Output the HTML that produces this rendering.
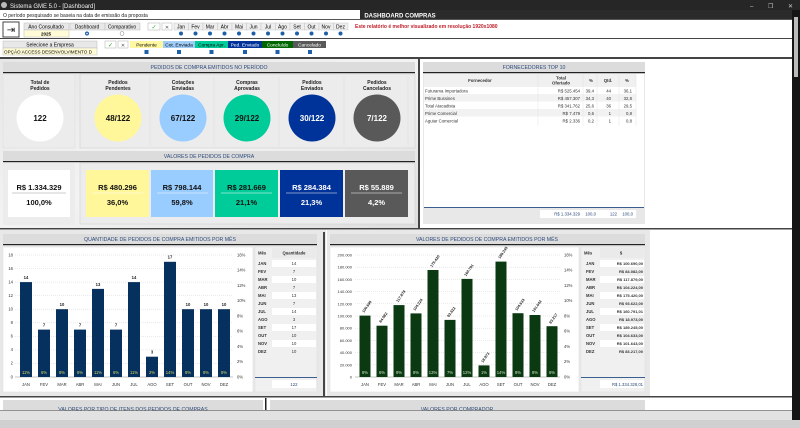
<!DOCTYPE html>
<html><head><meta charset="utf-8"><style>
html,body{margin:0;padding:0;width:800px;height:428px;overflow:hidden;background:#fff}
svg{display:block;font-family:"Liberation Sans",sans-serif}
</style></head><body>
<svg width="800" height="428" viewBox="0 0 800 428" xmlns="http://www.w3.org/2000/svg">
<defs>
<linearGradient id="pg" x1="0" y1="0" x2="1" y2="1"><stop offset="0" stop-color="#e6e6e6"/><stop offset="0.5" stop-color="#f3f3f3"/><stop offset="1" stop-color="#dedede"/></linearGradient>
</defs>
<!-- title bar -->
<rect x="0" y="0" width="800" height="10" fill="#262626"/>
<circle cx="4" cy="5" r="3" fill="#bbb"/>
<text x="10" y="8" font-size="6" fill="#eee">Sistema GME 5.0 - [Dashboard]</text>
<text x="750" y="8" font-size="6" fill="#ccc">–</text><text x="768" y="8" font-size="6" fill="#ccc">❐</text><text x="788" y="8" font-size="6" fill="#ccc">✕</text>
<rect x="0" y="10" width="800" height="10" fill="#fff"/>
<rect x="360" y="10" width="440" height="10" fill="#2b2b2b"/>
<text x="3" y="17" font-size="5" fill="#222">O período pesquisado se baseia na data de emissão da proposta</text>
<text x="400" y="17.5" font-size="6" fill="#fff" text-anchor="middle" font-weight="bold">DASHBOARD COMPRAS</text>
<rect x="0" y="19" width="792" height="1" fill="#555"/>
<!-- controls row 1 -->
<rect x="3" y="22" width="16" height="15" fill="#fff" stroke="#444" stroke-width="1"/>
<text x="11" y="33" font-size="10" text-anchor="middle" fill="#222">⇥</text>
<rect x="24" y="23" width="45" height="7" fill="#e8e8e8" stroke="#bbb" stroke-width="0.5"/>
<text x="46" y="28.5" font-size="5" text-anchor="middle">Ano Consultado</text>
<rect x="24" y="30" width="45" height="7" fill="#fffbd6" stroke="#bbb" stroke-width="0.5"/>
<text x="46" y="35.5" font-size="4.5" text-anchor="middle" font-weight="bold">2025</text>
<rect x="70" y="23" width="35" height="7" fill="#e8e8e8" stroke="#bbb" stroke-width="0.5"/>
<text x="87" y="28.5" font-size="5" text-anchor="middle">Dashboard</text>
<rect x="105" y="23" width="35" height="7" fill="#e8e8e8" stroke="#bbb" stroke-width="0.5"/>
<text x="122" y="28.5" font-size="5" text-anchor="middle">Comparativo</text>
<circle cx="87" cy="33.5" r="2" fill="#1e5fa8"/><circle cx="87" cy="33.5" r="0.8" fill="#fff"/>
<circle cx="122" cy="33.5" r="2" fill="#fff" stroke="#888" stroke-width="0.5"/>
<rect x="148" y="23" width="12" height="7" fill="#fff" stroke="#aaa" stroke-width="0.5"/><text x="154" y="29" font-size="6" fill="#3a3" text-anchor="middle">✓</text>
<rect x="162" y="23" width="10" height="7" fill="#fff" stroke="#aaa" stroke-width="0.5"/><text x="167" y="29" font-size="5" fill="#555" text-anchor="middle">✕</text>
<g font-size="5" text-anchor="middle">
<rect x="174" y="23" width="14.5" height="7" fill="#eee" stroke="#bbb" stroke-width="0.4"/><text x="181" y="28.5">Jan</text>
<rect x="188.5" y="23" width="14.5" height="7" fill="#eee" stroke="#bbb" stroke-width="0.4"/><text x="195.5" y="28.5">Fev</text>
<rect x="203" y="23" width="14.5" height="7" fill="#eee" stroke="#bbb" stroke-width="0.4"/><text x="210" y="28.5">Mar</text>
<rect x="217.5" y="23" width="14.5" height="7" fill="#eee" stroke="#bbb" stroke-width="0.4"/><text x="224.5" y="28.5">Abr</text>
<rect x="232" y="23" width="14.5" height="7" fill="#eee" stroke="#bbb" stroke-width="0.4"/><text x="239" y="28.5">Mai</text>
<rect x="246.5" y="23" width="14.5" height="7" fill="#eee" stroke="#bbb" stroke-width="0.4"/><text x="253.5" y="28.5">Jun</text>
<rect x="261" y="23" width="14.5" height="7" fill="#eee" stroke="#bbb" stroke-width="0.4"/><text x="268" y="28.5">Jul</text>
<rect x="275.5" y="23" width="14.5" height="7" fill="#eee" stroke="#bbb" stroke-width="0.4"/><text x="282.5" y="28.5">Ago</text>
<rect x="290" y="23" width="14.5" height="7" fill="#eee" stroke="#bbb" stroke-width="0.4"/><text x="297" y="28.5">Set</text>
<rect x="304.5" y="23" width="14.5" height="7" fill="#eee" stroke="#bbb" stroke-width="0.4"/><text x="311.5" y="28.5">Out</text>
<rect x="319" y="23" width="14.5" height="7" fill="#eee" stroke="#bbb" stroke-width="0.4"/><text x="326" y="28.5">Nov</text>
<rect x="333.5" y="23" width="14.5" height="7" fill="#eee" stroke="#bbb" stroke-width="0.4"/><text x="340.5" y="28.5">Dez</text>
</g>
<g fill="#1e5fa8">
<circle cx="181" cy="33.5" r="2"/><circle cx="195.5" cy="33.5" r="2"/><circle cx="210" cy="33.5" r="2"/><circle cx="224.5" cy="33.5" r="2"/><circle cx="239" cy="33.5" r="2"/><circle cx="253.5" cy="33.5" r="2"/><circle cx="268" cy="33.5" r="2"/><circle cx="282.5" cy="33.5" r="2"/><circle cx="297" cy="33.5" r="2"/><circle cx="311.5" cy="33.5" r="2"/><circle cx="326" cy="33.5" r="2"/><circle cx="340.5" cy="33.5" r="2"/>
</g>
<text x="355" y="28" font-size="5" fill="#c0202a" font-weight="bold">Este relatório é melhor visualizado em resolução 1920x1080</text>
<rect x="0" y="38" width="792" height="1" fill="#444"/>
<!-- controls row 2 -->
<rect x="3" y="41" width="94" height="7" fill="#e8e8e8" stroke="#bbb" stroke-width="0.5"/>
<text x="50" y="46.5" font-size="5" text-anchor="middle">Selecione a Empresa</text>
<rect x="3" y="48" width="94" height="7" fill="#fffbd6" stroke="#bbb" stroke-width="0.5"/>
<text x="4" y="53.5" font-size="4.6">OPÇÃO ACCESS DESENVOLVIMENTO D</text>
<rect x="105" y="41" width="11" height="7" fill="#fff" stroke="#aaa" stroke-width="0.5"/><text x="110.5" y="47" font-size="6" fill="#3a3" text-anchor="middle">✓</text>
<rect x="118" y="41" width="10" height="7" fill="#fff" stroke="#aaa" stroke-width="0.5"/><text x="123" y="47" font-size="5" fill="#555" text-anchor="middle">✕</text>
<g font-size="4.8" text-anchor="middle">
<rect x="130" y="41" width="33" height="7" fill="#fff8a0"/><text x="146.5" y="46.5">Pendente</text>
<rect x="163" y="41" width="32" height="7" fill="#9fcdf8"/><text x="179" y="46.5">Cot. Enviada</text>
<rect x="195" y="41" width="33" height="7" fill="#00cc99"/><text x="211.5" y="46.5">Compra Apr.</text>
<rect x="228" y="41" width="34" height="7" fill="#003399"/><text x="245" y="46.5" fill="#fff">Ped. Enviado</text>
<rect x="262" y="41" width="31" height="7" fill="#006600"/><text x="277.5" y="46.5" fill="#fff">Concluído</text>
<rect x="293" y="41" width="33" height="7" fill="#595959"/><text x="309.5" y="46.5" fill="#fff">Cancelado</text>
</g>
<g fill="#1e5fa8"><rect x="144.5" y="50" width="4" height="4"/><rect x="177" y="50" width="4" height="4"/><rect x="209.5" y="50" width="4" height="4"/><rect x="243" y="50" width="4" height="4"/><rect x="275.5" y="50" width="4" height="4"/><rect x="308" y="50" width="4" height="4"/></g>
<rect x="0" y="57" width="792" height="2" fill="#444"/>

<!-- top-left panel -->
<rect x="0" y="59" width="420" height="169" fill="url(#pg)"/>
<rect x="3" y="62" width="412" height="10" fill="#dcdcdc"/>
<text x="209" y="69" font-size="5.2" text-anchor="middle" fill="#2d4a7a">PEDIDOS DE COMPRA EMITIDOS NO PERÍODO</text>
<rect x="3" y="72" width="412" height="1.2" fill="#222"/>
<rect x="3" y="74" width="72" height="74" fill="#ececec" stroke="#ddd" stroke-width="0.5"/>
<rect x="80" y="74" width="335" height="74" fill="#ececec" stroke="#ccc" stroke-width="0.5"/>
<g font-size="5" text-anchor="middle" font-weight="bold" fill="#222">
<text x="40" y="84">Total de</text><text x="40" y="90">Pedidos</text>
<text x="118" y="84">Pedidos</text><text x="118" y="90">Pendentes</text>
<text x="183" y="84">Cotações</text><text x="183" y="90">Enviadas</text>
<text x="247" y="84">Compras</text><text x="247" y="90">Aprovadas</text>
<text x="312" y="84">Pedidos</text><text x="312" y="90">Enviados</text>
<text x="377" y="84">Pedidos</text><text x="377" y="90">Cancelados</text>
</g>
<g stroke="#ddd" stroke-width="0.5"><line x1="150" y1="77" x2="150" y2="146"/><line x1="214" y1="77" x2="214" y2="146"/><line x1="279" y1="77" x2="279" y2="146"/><line x1="344" y1="77" x2="344" y2="146"/><line x1="408" y1="77" x2="408" y2="146"/></g>
<circle cx="40" cy="118" r="23.5" fill="#fff"/>
<circle cx="118" cy="118" r="23.5" fill="#fff79a"/>
<circle cx="183" cy="118" r="23.5" fill="#99ccff"/>
<circle cx="247" cy="118" r="23.5" fill="#00cc99"/>
<circle cx="312" cy="118" r="23.5" fill="#003399"/>
<circle cx="377" cy="118" r="23.5" fill="#595959"/>
<g font-size="8" text-anchor="middle" font-weight="bold">
<text x="40" y="121" fill="#111">122</text>
<text x="118" y="121" fill="#111">48/122</text>
<text x="183" y="121" fill="#111">67/122</text>
<text x="247" y="121" fill="#111">29/122</text>
<text x="312" y="121" fill="#fff">30/122</text>
<text x="377" y="121" fill="#fff">7/122</text>
</g>
<rect x="3" y="151" width="412" height="10" fill="#dcdcdc"/>
<text x="209" y="158" font-size="5.2" text-anchor="middle" fill="#2d4a7a">VALORES DE PEDIDOS DE COMPRA</text>
<rect x="3" y="161" width="412" height="1.2" fill="#222"/>
<rect x="3" y="163" width="72" height="62" fill="#ececec"/>
<rect x="80" y="163" width="335" height="61" fill="#ececec" stroke="#ccc" stroke-width="0.5"/>
<rect x="8" y="170" width="62" height="47" fill="#fff"/>
<rect x="86" y="170" width="63" height="47" fill="#fff79a"/>
<rect x="151" y="170" width="62" height="47" fill="#99ccff"/>
<rect x="215" y="170" width="63" height="47" fill="#00cc99"/>
<rect x="280" y="170" width="63" height="47" fill="#003399"/>
<rect x="345" y="170" width="63" height="47" fill="#595959"/>
<g stroke-width="0.5"><line x1="12" y1="193" x2="66" y2="193" stroke="#999"/><line x1="92" y1="193" x2="143" y2="193" stroke="#fff"/><line x1="157" y1="193" x2="208" y2="193" stroke="#fff"/><line x1="221" y1="193" x2="272" y2="193" stroke="#fff"/><line x1="286" y1="193" x2="337" y2="193" stroke="#fff"/><line x1="351" y1="193" x2="402" y2="193" stroke="#fff"/></g>
<g font-size="7.5" text-anchor="middle" font-weight="bold">
<text x="39" y="190" fill="#111">R$ 1.334.329</text><text x="39" y="205" fill="#111">100,0%</text>
<text x="117.5" y="190" fill="#111">R$ 480.296</text><text x="117.5" y="205" fill="#111">36,0%</text>
<text x="182" y="190" fill="#111">R$ 798.144</text><text x="182" y="205" fill="#111">59,8%</text>
<text x="246.5" y="190" fill="#111">R$ 281.669</text><text x="246.5" y="205" fill="#111">21,1%</text>
<text x="311.5" y="190" fill="#fff">R$ 284.384</text><text x="311.5" y="205" fill="#fff">21,3%</text>
<text x="376.5" y="190" fill="#fff">R$ 55.889</text><text x="376.5" y="205" fill="#fff">4,2%</text>
</g>
<rect x="418" y="59" width="2" height="169" fill="#444"/>

<!-- top-right table -->
<rect x="423" y="62" width="222" height="162" fill="#e8e8e8"/>
<rect x="423" y="62" width="222" height="10" fill="#dcdcdc"/>
<text x="534" y="69" font-size="5.2" text-anchor="middle" fill="#2d4a7a">FORNECEDORES TOP 10</text>
<rect x="423" y="72" width="222" height="1.2" fill="#222"/>
<rect x="424" y="74" width="220" height="133" fill="#fff"/>
<rect x="424" y="74" width="212" height="13" fill="#f0f0f0"/>
<g font-size="4.3" fill="#333" font-weight="bold" text-anchor="middle">
<text x="480" y="82">Fornecedor</text><text x="561" y="79.5">Total</text><text x="561" y="84.5">Ofertado</text><text x="591" y="82">%</text><text x="608" y="82">Qtd.</text><text x="627" y="82">%</text>
</g>
<g fill="#f2f2f2"><rect x="424" y="94" width="212" height="7.5"/><rect x="424" y="109" width="212" height="7.5"/></g>
<g stroke="#ddd" stroke-width="0.4"><line x1="538" y1="74" x2="538" y2="126"/><line x1="583" y1="74" x2="583" y2="126"/><line x1="597" y1="74" x2="597" y2="126"/><line x1="619" y1="74" x2="619" y2="126"/><line x1="636" y1="74" x2="636" y2="126"/></g>
<g font-size="4.3" fill="#333">
<text x="425" y="92.5">Futurama Importadora</text><text x="425" y="100">Prime Bussines</text><text x="425" y="107.5">Total Atacadista</text><text x="425" y="115">Prime Comercial</text><text x="425" y="122.5">Aguiar Comercial</text>
</g>
<g font-size="4.3" fill="#333" text-anchor="end">
<text x="580" y="92.5">R$ 525.454</text><text x="594" y="92.5">39,4</text><text x="611" y="92.5">44</text><text x="632" y="92.5">36,1</text>
<text x="580" y="100">R$ 457.307</text><text x="594" y="100">34,3</text><text x="611" y="100">40</text><text x="632" y="100">32,8</text>
<text x="580" y="107.5">R$ 341.762</text><text x="594" y="107.5">25,6</text><text x="611" y="107.5">36</text><text x="632" y="107.5">29,5</text>
<text x="580" y="115">R$ 7.479</text><text x="594" y="115">0,6</text><text x="611" y="115">1</text><text x="632" y="115">0,8</text>
<text x="580" y="122.5">R$ 2.336</text><text x="594" y="122.5">0,2</text><text x="611" y="122.5">1</text><text x="632" y="122.5">0,8</text>
</g>
<rect x="424" y="207" width="220" height="1" fill="#3a5f8f"/>
<rect x="540" y="210" width="96" height="8" fill="#fff"/>
<g font-size="4.3" fill="#2d4a7a" text-anchor="end">
<text x="580" y="215.5">R$ 1.334.329</text><text x="596" y="215.5">100,0</text><text x="617" y="215.5">122</text><text x="633" y="215.5">100,0</text>
</g>
<rect x="0" y="228" width="792" height="1.5" fill="#444"/>

<!-- bottom left panel -->
<rect x="0" y="230" width="326" height="166" fill="#e8e8e8"/>
<rect x="3" y="234" width="314" height="10" fill="#dcdcdc"/>
<text x="160" y="241" font-size="5.2" text-anchor="middle" fill="#2d4a7a">QUANTIDADE DE PEDIDOS DE COMPRA EMITIDOS POR MÊS</text>
<rect x="3" y="244" width="314" height="1.2" fill="#222"/>
<rect x="3" y="247" width="250" height="145" fill="#fff" stroke="#ddd" stroke-width="0.5"/>
<g stroke="#ccc" stroke-width="0.4" stroke-dasharray="1,1"><line x1="15" y1="255" x2="233" y2="255"/><line x1="15" y1="268.6" x2="233" y2="268.6"/><line x1="15" y1="282.1" x2="233" y2="282.1"/><line x1="15" y1="295.7" x2="233" y2="295.7"/><line x1="15" y1="309.2" x2="233" y2="309.2"/><line x1="15" y1="322.8" x2="233" y2="322.8"/><line x1="15" y1="336.3" x2="233" y2="336.3"/><line x1="15" y1="349.9" x2="233" y2="349.9"/><line x1="15" y1="363.4" x2="233" y2="363.4"/></g>
<line x1="15" y1="377" x2="233" y2="377" stroke="#888" stroke-width="0.5"/>
<g font-size="4.2" fill="#333" text-anchor="end">
<text x="13" y="256.5">18</text><text x="13" y="270">16</text><text x="13" y="283.5">14</text><text x="13" y="297">12</text><text x="13" y="310.5">10</text><text x="13" y="324">8</text><text x="13" y="337.5">6</text><text x="13" y="351">4</text><text x="13" y="364.5">2</text><text x="13" y="378.5">0</text>
</g>
<g font-size="4.2" fill="#333">
<text x="237" y="256.5">16%</text><text x="237" y="271.7">14%</text><text x="237" y="287">12%</text><text x="237" y="302.2">10%</text><text x="237" y="317.5">8%</text><text x="237" y="332.7">6%</text><text x="237" y="348">4%</text><text x="237" y="363.2">2%</text><text x="237" y="378.5">0%</text>
</g>
<g fill="#06305e">
<rect x="20" y="282.1" width="12" height="94.9"/><rect x="38" y="329.6" width="12" height="47.4"/><rect x="56" y="309.2" width="12" height="67.8"/><rect x="74" y="329.6" width="12" height="47.4"/><rect x="92" y="288.9" width="12" height="88.1"/><rect x="110" y="329.6" width="12" height="47.4"/><rect x="128" y="282.1" width="12" height="94.9"/><rect x="146" y="356.7" width="12" height="20.3"/><rect x="164" y="261.8" width="12" height="115.2"/><rect x="182" y="309.2" width="12" height="67.8"/><rect x="200" y="309.2" width="12" height="67.8"/><rect x="218" y="309.2" width="12" height="67.8"/>
</g>
<g font-size="4.2" fill="#222" text-anchor="middle" font-weight="bold">
<text x="26" y="279">14</text><text x="44" y="326.5">7</text><text x="62" y="306">10</text><text x="80" y="326.5">7</text><text x="98" y="286">13</text><text x="116" y="326.5">7</text><text x="134" y="279">14</text><text x="152" y="353.5">3</text><text x="170" y="258.5">17</text><text x="188" y="306">10</text><text x="206" y="306">10</text><text x="224" y="306">10</text>
</g>
<g font-size="4.2" fill="#d8d860" text-anchor="middle">
<text x="26" y="374">11%</text><text x="44" y="374">6%</text><text x="62" y="374">8%</text><text x="80" y="374">6%</text><text x="98" y="374">11%</text><text x="116" y="374">6%</text><text x="134" y="374">11%</text><text x="152" y="374">2%</text><text x="170" y="374">14%</text><text x="188" y="374">8%</text><text x="206" y="374">8%</text><text x="224" y="374">8%</text>
</g>
<g font-size="4.2" fill="#333" text-anchor="middle">
<text x="26" y="386">JAN</text><text x="44" y="386">FEV</text><text x="62" y="386">MAR</text><text x="80" y="386">ABR</text><text x="98" y="386">MAI</text><text x="116" y="386">JUN</text><text x="134" y="386">JUL</text><text x="152" y="386">AGO</text><text x="170" y="386">SET</text><text x="188" y="386">OUT</text><text x="206" y="386">NOV</text><text x="224" y="386">DEZ</text>
</g>
<!-- qty table -->
<rect x="255" y="247" width="62" height="145" fill="#f0f0f0" stroke="#ddd" stroke-width="0.5"/>
<rect x="272" y="248" width="44" height="10" fill="#eaeaea"/>
<g font-size="4.2" font-weight="bold" fill="#333"><text x="258" y="254.5">Mês</text><text x="294" y="254.5" text-anchor="middle">Quantidade</text></g>
<g fill="#fff"><rect x="272" y="260" width="44" height="7"/><rect x="272" y="276" width="44" height="7"/><rect x="272" y="292" width="44" height="7"/><rect x="272" y="308" width="44" height="7"/><rect x="272" y="324" width="44" height="7"/><rect x="272" y="340" width="44" height="7"/></g>
<g font-size="4.2" font-weight="bold" fill="#333">
<text x="258" y="265">JAN</text><text x="258" y="273">FEV</text><text x="258" y="281">MAR</text><text x="258" y="289">ABR</text><text x="258" y="297">MAI</text><text x="258" y="305">JUN</text><text x="258" y="313">JUL</text><text x="258" y="321">AGO</text><text x="258" y="329">SET</text><text x="258" y="337">OUT</text><text x="258" y="345">NOV</text><text x="258" y="353">DEZ</text>
</g>
<g font-size="4.2" fill="#333" text-anchor="middle">
<text x="294" y="265">14</text><text x="294" y="273">7</text><text x="294" y="281">10</text><text x="294" y="289">7</text><text x="294" y="297">13</text><text x="294" y="305">7</text><text x="294" y="313">14</text><text x="294" y="321">3</text><text x="294" y="329">17</text><text x="294" y="337">10</text><text x="294" y="345">10</text><text x="294" y="353">10</text>
</g>
<rect x="255" y="377" width="62" height="1" fill="#3a5f8f"/>
<rect x="272" y="380" width="44" height="8" fill="#fff"/>
<text x="294" y="386" font-size="4.3" fill="#2d4a7a" text-anchor="middle">122</text>
<rect x="323" y="232" width="2" height="164" fill="#444"/>

<!-- bottom right panel -->
<rect x="327" y="230" width="323" height="166" fill="#e8e8e8"/>
<rect x="330" y="234" width="315" height="10" fill="#dcdcdc"/>
<text x="487" y="241" font-size="5.2" text-anchor="middle" fill="#2d4a7a">VALORES DE PEDIDOS DE COMPRA EMITIDOS POR MÊS</text>
<rect x="330" y="244" width="315" height="1.2" fill="#222"/>
<rect x="330" y="247" width="249" height="145" fill="#fff" stroke="#ddd" stroke-width="0.5"/>
<g stroke="#ccc" stroke-width="0.4" stroke-dasharray="1,1"><line x1="355" y1="255" x2="560" y2="255"/><line x1="355" y1="267.2" x2="560" y2="267.2"/><line x1="355" y1="279.4" x2="560" y2="279.4"/><line x1="355" y1="291.6" x2="560" y2="291.6"/><line x1="355" y1="303.8" x2="560" y2="303.8"/><line x1="355" y1="316" x2="560" y2="316"/><line x1="355" y1="328.2" x2="560" y2="328.2"/><line x1="355" y1="340.4" x2="560" y2="340.4"/><line x1="355" y1="352.6" x2="560" y2="352.6"/><line x1="355" y1="364.8" x2="560" y2="364.8"/></g>
<line x1="355" y1="377" x2="560" y2="377" stroke="#888" stroke-width="0.5"/>
<g font-size="4" fill="#333" text-anchor="end">
<text x="352" y="256.5">200.000</text><text x="352" y="268.7">180.000</text><text x="352" y="280.9">160.000</text><text x="352" y="293.1">140.000</text><text x="352" y="305.3">120.000</text><text x="352" y="317.5">100.000</text><text x="352" y="329.7">80.000</text><text x="352" y="341.9">60.000</text><text x="352" y="354.1">40.000</text><text x="352" y="366.3">20.000</text><text x="352" y="378.5">0</text>
</g>
<g font-size="4.2" fill="#333">
<text x="564" y="256.5">16%</text><text x="564" y="271.7">14%</text><text x="564" y="287">12%</text><text x="564" y="302.2">10%</text><text x="564" y="317.5">8%</text><text x="564" y="332.7">6%</text><text x="564" y="348">4%</text><text x="564" y="363.2">2%</text><text x="564" y="378.5">0%</text>
</g>
<g fill="#0b3a12">
<rect x="359.5" y="315.6" width="11" height="61.4"/><rect x="376.5" y="325.7" width="11" height="51.3"/><rect x="393.5" y="305.1" width="11" height="71.9"/><rect x="410.5" y="313.4" width="11" height="63.6"/><rect x="427.5" y="270" width="11" height="107"/><rect x="444.5" y="319.9" width="11" height="57.1"/><rect x="461.5" y="278.9" width="11" height="98.1"/><rect x="478.5" y="365.4" width="11" height="11.6"/><rect x="495.5" y="261.6" width="11" height="115.4"/><rect x="512.5" y="313.2" width="11" height="63.8"/><rect x="529.5" y="315" width="11" height="62"/><rect x="546.5" y="326.2" width="11" height="50.8"/>
</g>
<g font-size="3.8" fill="#222" font-weight="bold">
<text transform="translate(364,313) rotate(-55)">100.690</text>
<text transform="translate(381,323) rotate(-55)">84.082</text>
<text transform="translate(398,302.5) rotate(-55)">117.879</text>
<text transform="translate(415,311) rotate(-55)">104.224</text>
<text transform="translate(432,267.5) rotate(-55)">175.420</text>
<text transform="translate(449,317.5) rotate(-55)">93.622</text>
<text transform="translate(466,276.5) rotate(-55)">160.791</text>
<text transform="translate(483,363) rotate(-55)">18.973</text>
<text transform="translate(500,259) rotate(-55)">189.245</text>
<text transform="translate(517,311) rotate(-55)">104.633</text>
<text transform="translate(534,312.5) rotate(-55)">101.643</text>
<text transform="translate(551,324) rotate(-55)">83.217</text>
</g>
<g font-size="4.2" fill="#d0e0c0" text-anchor="middle">
<text x="365" y="374">8%</text><text x="382" y="374">6%</text><text x="399" y="374">9%</text><text x="416" y="374">8%</text><text x="433" y="374">13%</text><text x="450" y="374">7%</text><text x="467" y="374">12%</text><text x="484" y="374">1%</text><text x="501" y="374">14%</text><text x="518" y="374">8%</text><text x="535" y="374">8%</text><text x="552" y="374">6%</text>
</g>
<g font-size="4.2" fill="#333" text-anchor="middle">
<text x="365" y="386">JAN</text><text x="382" y="386">FEV</text><text x="399" y="386">MAR</text><text x="416" y="386">ABR</text><text x="433" y="386">MAI</text><text x="450" y="386">JUN</text><text x="467" y="386">JUL</text><text x="484" y="386">AGO</text><text x="501" y="386">SET</text><text x="518" y="386">OUT</text><text x="535" y="386">NOV</text><text x="552" y="386">DEZ</text>
</g>
<rect x="581" y="247" width="64" height="145" fill="#f0f0f0" stroke="#ddd" stroke-width="0.5"/>
<rect x="600" y="248" width="44" height="10" fill="#eaeaea"/>
<g font-size="4.2" font-weight="bold" fill="#333"><text x="584" y="254.5">Mês</text><text x="621" y="254.5" text-anchor="middle">$</text></g>
<g fill="#fff"><rect x="600" y="260" width="44" height="7"/><rect x="600" y="276" width="44" height="7"/><rect x="600" y="292" width="44" height="7"/><rect x="600" y="308" width="44" height="7"/><rect x="600" y="324" width="44" height="7"/><rect x="600" y="340" width="44" height="7"/></g>
<g font-size="4.2" font-weight="bold" fill="#333">
<text x="586" y="265">JAN</text><text x="586" y="273">FEV</text><text x="586" y="281">MAR</text><text x="586" y="289">ABR</text><text x="586" y="297">MAI</text><text x="586" y="305">JUN</text><text x="586" y="313">JUL</text><text x="586" y="321">AGO</text><text x="586" y="329">SET</text><text x="586" y="337">OUT</text><text x="586" y="345">NOV</text><text x="586" y="353">DEZ</text>
</g>
<g font-size="4" fill="#333" text-anchor="end" font-weight="bold">
<text x="643" y="265">R$ 100.690,00</text><text x="643" y="273">R$ 84.082,00</text><text x="643" y="281">R$ 117.879,00</text><text x="643" y="289">R$ 104.224,00</text><text x="643" y="297">R$ 175.420,00</text><text x="643" y="305">R$ 93.622,00</text><text x="643" y="313">R$ 160.791,01</text><text x="643" y="321">R$ 18.973,00</text><text x="643" y="329">R$ 189.245,00</text><text x="643" y="337">R$ 104.633,00</text><text x="643" y="345">R$ 101.643,00</text><text x="643" y="353">R$ 83.217,00</text>
</g>
<rect x="581" y="377" width="64" height="1" fill="#3a5f8f"/>
<rect x="600" y="380" width="44" height="8" fill="#fff"/>
<text x="643" y="386" font-size="4.2" fill="#2d4a7a" text-anchor="end">R$ 1.334.328,01</text>

<!-- bottom section -->
<rect x="0" y="396" width="792" height="1.5" fill="#444"/>
<rect x="3" y="400" width="260" height="10" fill="#dcdcdc"/>
<text x="133" y="411" font-size="5.2" text-anchor="middle" fill="#2d4a7a">VALORES POR TIPO DE ITENS DOS PEDIDOS DE COMPRAS</text>
<rect x="265" y="398" width="1.5" height="12" fill="#222"/>
<rect x="270" y="400" width="375" height="10" fill="#dcdcdc"/>
<text x="457" y="411" font-size="5.2" text-anchor="middle" fill="#2d4a7a">VALORES POR COMPRADOR</text>
<rect x="0" y="410" width="792" height="0.8" fill="#777"/>
<rect x="0" y="411" width="792" height="9" fill="#e2e2e2"/>
<rect x="0" y="420" width="800" height="8" fill="#d0d0d0"/>
<!-- scrollbar -->
<rect x="792" y="10" width="8" height="410" fill="#151515"/>
<rect x="794" y="17" width="4" height="60" fill="#bbb"/>
</svg>
</body></html>
